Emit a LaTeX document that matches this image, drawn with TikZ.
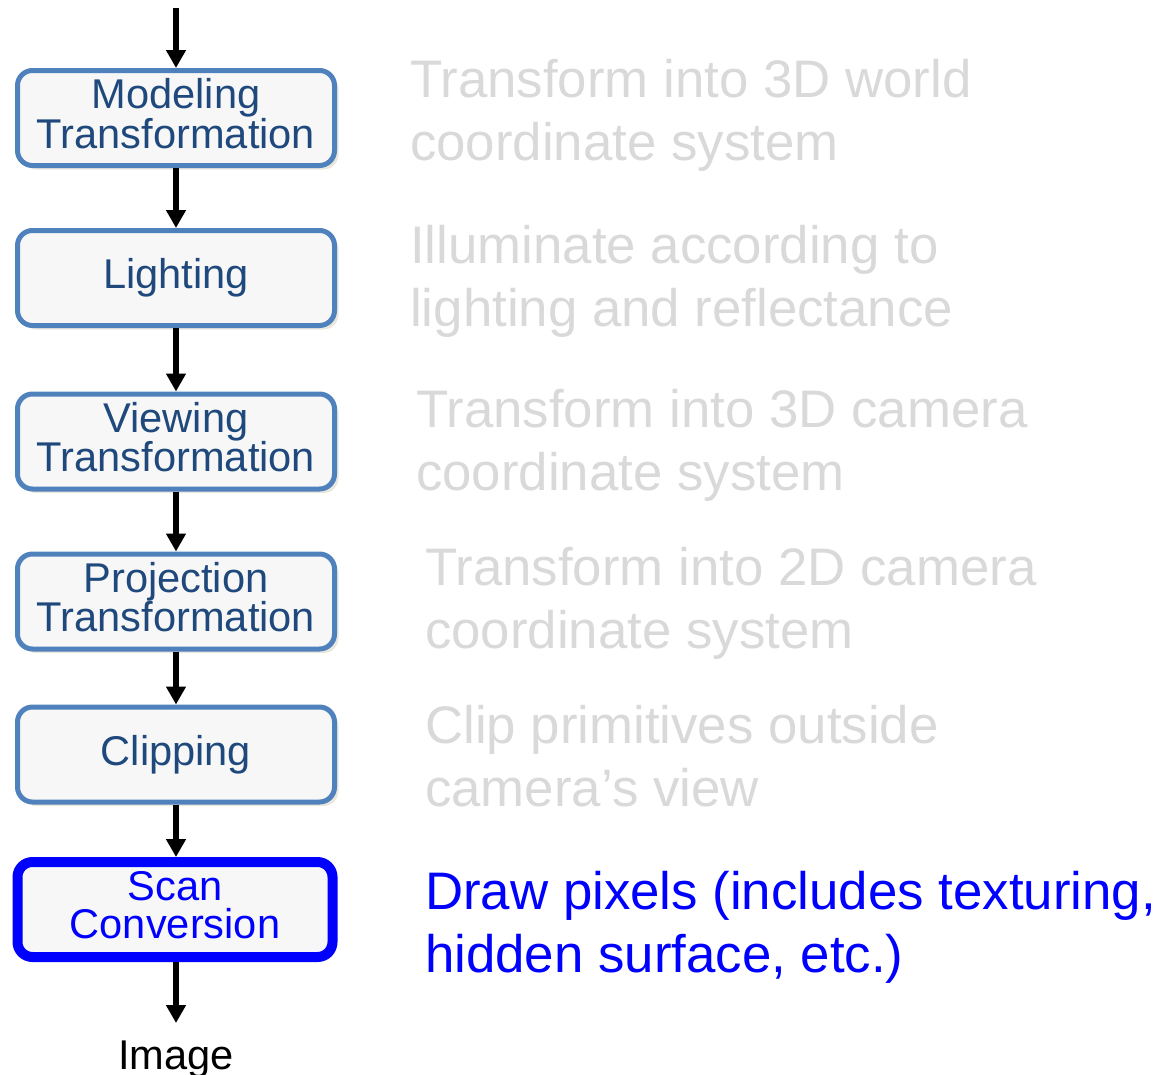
\documentclass[tikz,border=0pt]{standalone}
\usepackage{fontspec}
\setmainfont{Liberation Sans}
\usetikzlibrary{arrows.meta,shadows}

\definecolor{stageedge}{HTML}{4F81BD}
\definecolor{stagetext}{HTML}{1F497D}
\definecolor{stagefill}{HTML}{F7F7F7}
\definecolor{stageshadow}{HTML}{EAE7DD}
\definecolor{notegray}{HTML}{D9D9D9}
\definecolor{activeblue}{HTML}{0000FF}

\tikzset{
  stagebox/.style={draw=stageedge, line width=5pt, fill=stagefill,
    rounded corners=15pt, minimum width=317pt, minimum height=95pt,
    inner sep=0pt, outer sep=auto, align=center, text=stagetext,
    font=\fontsize{41.6}{38}\selectfont,
    drop shadow={shadow xshift=4pt, shadow yshift=-4pt, fill=stageshadow, opacity=1}},
  % two-line labels sit a little above the box centre
  twoline/.style={text depth=9pt},
  activebox/.style={stagebox, draw=activeblue, line width=10pt, text=activeblue,
    minimum width=315pt, font=\fontsize{41.6}{38}\selectfont},
  flow/.style={line width=6pt, -{Triangle[width=19pt,length=18pt]}},
  % multi-line notes are placed by the baseline of their last line
  note/.style={anchor=base west, align=left, inner sep=0pt, text=notegray,
    font=\fontsize{52.8}{63}\selectfont},
  activenote/.style={note, text=activeblue}
}

\begin{document}
\begin{tikzpicture}[x=1pt, y=-1pt]
\useasboundingbox (0,0) rectangle (1164,1074);

% pipeline stages
\node[stagebox, twoline] (model) at (176,118) {Modeling\\Transformation};
\node[stagebox] (light) at (176,278) {Lighting};
\node[stagebox, twoline] (view)  at (176,441.5) {Viewing\\Transformation};
\node[stagebox, twoline] (proj)  at (176,601.5) {Projection\\Transformation};
\node[stagebox] (clip)  at (176,754.5) {Clipping};
\node[activebox, twoline] (scan) at (175,909.5) {Scan\\Conversion};
\node[anchor=base, inner sep=0pt, font=\fontsize{41.6}{36}\selectfont] (image) at (176,1069) {Image};

% flow between stages
\coordinate (input) at (176,8);
\draw[flow] (input) -- (model.north);
\draw[flow] (model.south) -- (light.north);
\draw[flow] (light.south) -- (view.north);
\draw[flow] (view.south) -- (proj.north);
\draw[flow] (proj.south) -- (clip.north);
\draw[flow] (clip.south) -- (scan.north -| clip.south);
\coordinate (out) at (176,1023);
\draw[flow] (scan.south -| out) -- (out);

% descriptions
\node[note] (d1) at (410,160) {Transform into 3D world\\coordinate system};
\node[note] (d2) at (410,326) {Illuminate according to\\lighting and reflectance};
\node[note] (d3) at (416,490) {Transform into 3D camera\\coordinate system};
\node[note] (d4) at (425,648) {Transform into 2D camera\\coordinate system};
\node[note] (d5) at (425,806) {Clip primitives outside\\camera’s view};
\node[activenote] (d6) at (425,972) {Draw pixels (includes texturing,\\hidden surface, etc.)};
\end{tikzpicture}
\end{document}
